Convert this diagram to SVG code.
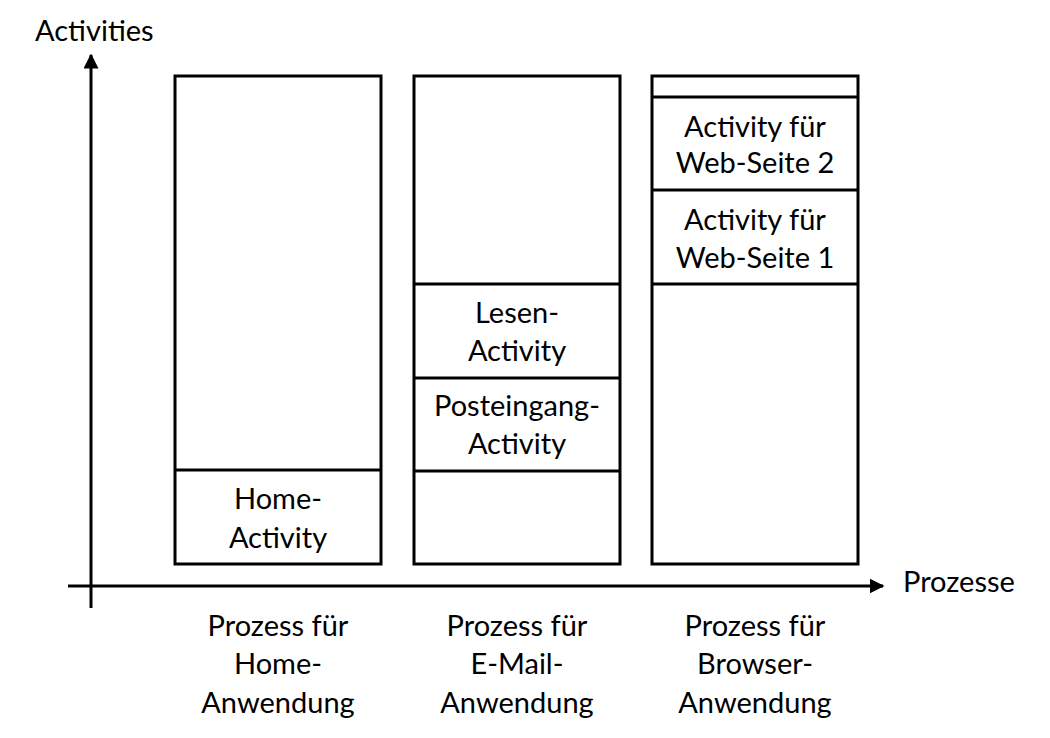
<svg xmlns="http://www.w3.org/2000/svg" width="1050" height="738" viewBox="0 0 1050 738">
  <style>
    .box { fill: #ffffff; stroke: #000000; stroke-width: 3; }
    .div { stroke: #000000; stroke-width: 3; }
    .axis { stroke: #000000; stroke-width: 3; fill: none; }
    text { font-family: Lato, "Open Sans", "Liberation Sans", sans-serif; font-size: 29px; fill: #000000; }
    .c { text-anchor: middle; }
  </style>
  <defs>
    <marker id="arrow" viewBox="0 0 10 10" refX="9" refY="5" markerWidth="5" markerHeight="5" orient="auto" markerUnits="strokeWidth">
      <path d="M0,0 L10,5 L0,10 Z" fill="#000000"/>
    </marker>
  </defs>

  <rect width="1050" height="738" fill="#ffffff"/>

  <!-- axes -->
  <g id="connectors">
    <line class="axis" x1="91" y1="608" x2="91" y2="55" marker-end="url(#arrow)"/>
    <line class="axis" x1="68" y1="586" x2="883" y2="586" marker-end="url(#arrow)"/>
  </g>
  <text x="35" y="41">Activities</text>
  <text x="903" y="592">Prozesse</text>

  <!-- home process -->
  <g id="home">
    <rect class="box" x="175" y="76" width="206" height="488"/>
    <line class="div" x1="175" y1="470" x2="381" y2="470"/>
    <text class="c" x="278" y="509">Home-</text>
    <text class="c" x="278" y="548">Activity</text>
  </g>

  <!-- e-mail process -->
  <g id="email">
    <rect class="box" x="414" y="76" width="206" height="488"/>
    <line class="div" x1="414" y1="284" x2="620" y2="284"/>
    <line class="div" x1="414" y1="378" x2="620" y2="378"/>
    <line class="div" x1="414" y1="471" x2="620" y2="471"/>
    <text class="c" x="517" y="323">Lesen-</text>
    <text class="c" x="517" y="361">Activity</text>
    <text class="c" x="517" y="416">Posteingang-</text>
    <text class="c" x="517" y="454">Activity</text>
  </g>

  <!-- browser process -->
  <g id="browser">
    <rect class="box" x="652" y="76" width="206" height="488"/>
    <line class="div" x1="652" y1="97" x2="858" y2="97"/>
    <line class="div" x1="652" y1="190" x2="858" y2="190"/>
    <line class="div" x1="652" y1="284" x2="858" y2="284"/>
    <text class="c" x="755" y="137">Activity für</text>
    <text class="c" x="755" y="173">Web-Seite 2</text>
    <text class="c" x="755" y="230">Activity für</text>
    <text class="c" x="755" y="268">Web-Seite 1</text>
  </g>

  <!-- process captions -->
  <g id="captions">
    <text class="c" x="278" y="636">Prozess für</text>
    <text class="c" x="278" y="674">Home-</text>
    <text class="c" x="278" y="713">Anwendung</text>
    <text class="c" x="517" y="636">Prozess für</text>
    <text class="c" x="517" y="674">E-Mail-</text>
    <text class="c" x="517" y="713">Anwendung</text>
    <text class="c" x="755" y="636">Prozess für</text>
    <text class="c" x="755" y="674">Browser-</text>
    <text class="c" x="755" y="713">Anwendung</text>
  </g>
</svg>
